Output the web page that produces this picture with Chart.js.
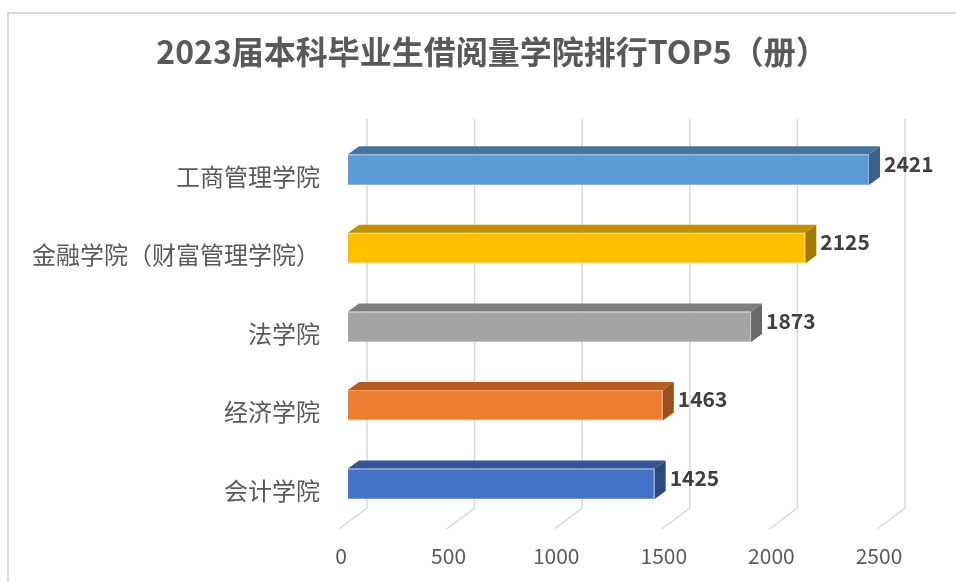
<!DOCTYPE html>
<html>
<head>
<meta charset="utf-8">
<script src="https://cdn.jsdelivr.net/npm/chart.js@4/dist/chart.umd.min.js"></script>
<style>
  html, body { margin: 0; padding: 0; background: #fff; }
  canvas { display: block; }
</style>
</head>
<body>
<canvas id="chart" width="956" height="582"></canvas>
<script>
// ======= Данные =======
const colleges = ["工商管理学院", "金融学院（财富管理学院）", "法学院", "经济学院", "会计学院"];
const books = [2421, 2125, 1873, 1463, 1425];
const axisTicks = [0, 500, 1000, 1500, 2000, 2500];

// цвета граней: передняя / верхняя / боковая
const frontColors = ["#5B9BD5", "#FFC000", "#A5A5A5", "#ED7D31", "#4472C4"];
const edgeColors  = ["#86B5E2", "#FFD34D", "#C2C2C2", "#F29E66", "#7296D6"];
const topColors   = ["#44749F", "#C29100", "#7E7E7E", "#B65D22", "#335592"];
const sideColors  = ["#3A6288", "#A37A00", "#6A6A6A", "#9C4F1C", "#2B4A7E"];

const FONT = "'Noto Sans CJK SC', 'Noto Sans', sans-serif";
const DX = 11, DY = 8;   // глубина столбика

const bar3d = {
  id: "bar3d",
  beforeDraw(chart) {
    // рамка
    const ctx = chart.ctx;
    ctx.save();
    ctx.strokeStyle = "#d9d9d9";
    ctx.lineWidth = 2;
    ctx.beginPath();
    ctx.moveTo(8, chart.height + 2);
    ctx.lineTo(8, 13);
    ctx.lineTo(chart.width + 2, 13);
    ctx.stroke();
    ctx.restore();
  },
  beforeDatasetsDraw(chart) {
    // задняя стенка + пол
    const ctx = chart.ctx, xs = chart.scales.x, area = chart.chartArea;
    ctx.save();
    ctx.strokeStyle = "#d9d9d9";
    ctx.lineWidth = 1.5;
    xs.ticks.forEach(t => {
      const x = xs.getPixelForValue(t.value);
      ctx.beginPath();
      ctx.moveTo(x + 19, area.top - 12);
      ctx.lineTo(x + 19, area.bottom - 15);
      ctx.lineTo(x - 9, area.bottom + 6);
      ctx.stroke();
    });
    ctx.restore();
  },
  afterDatasetsDraw(chart) {
    const ctx = chart.ctx;
    const meta = chart.getDatasetMeta(0);
    ctx.save();
    meta.data.forEach((bar, i) => {
      const p = bar.getProps(["x", "y", "base", "height"], true);
      const x0 = p.base, x1 = p.x, yt = p.y - p.height / 2, yb = p.y + p.height / 2;
      // верх
      ctx.fillStyle = topColors[i];
      ctx.beginPath();
      ctx.moveTo(x0, yt);
      ctx.lineTo(x0 + DX, yt - DY);
      ctx.lineTo(x1 + DX, yt - DY);
      ctx.lineTo(x1, yt);
      ctx.closePath();
      ctx.fill();
      // бок
      ctx.fillStyle = sideColors[i];
      ctx.beginPath();
      ctx.moveTo(x1, yt);
      ctx.lineTo(x1 + DX, yt - DY);
      ctx.lineTo(x1 + DX, yb - DY);
      ctx.lineTo(x1, yb);
      ctx.closePath();
      ctx.fill();
      // подпись
      ctx.fillStyle = "#404040";
      ctx.font = "bold 21px " + FONT;
      ctx.textAlign = "left";
      ctx.textBaseline = "middle";
      ctx.fillText(String(books[i]), x1 + DX + 4, p.y - 6);
    });
    ctx.restore();
  }
};

new Chart(document.getElementById("chart"), {
  type: "bar",
  data: {
    labels: colleges,
    datasets: [{
      data: books,
      backgroundColor: frontColors,
      borderColor: edgeColors,
      borderWidth: 1,
      barPercentage: 0.39,
      categoryPercentage: 1
    }]
  },
  options: {
    indexAxis: "y",
    responsive: false,
    animation: false,
    devicePixelRatio: 1,
    layout: { padding: { left: 28, right: 0, top: 0, bottom: 15 } },
    plugins: {
      legend: { display: false },
      tooltip: { enabled: false },
      title: {
        display: true,
        text: "2023届本科毕业生借阅量学院排行TOP5（册）",
        color: "#595959",
        font: { family: FONT, size: 32, weight: "bold", lineHeight: 1.2 },
        padding: { top: 33, bottom: 59 }
      }
    },
    scales: {
      x: {
        min: 0,
        max: 2500,
        afterBuildTicks: s => { s.ticks = axisTicks.map(v => ({ value: v })); },
        afterFit: s => { s.height = 44; },
        grid: { display: false, drawTicks: false },
        border: { display: false },
        ticks: {
          color: "#595959",
          font: { family: FONT, size: 21, lineHeight: 1.2 },
          padding: 20,
          labelOffset: -7,
          maxRotation: 0,
          callback: v => String(v)
        }
      },
      y: {
        afterFit: s => { s.width = 320; },
        grid: { display: false, drawTicks: false },
        border: { display: false },
        ticks: {
          color: "#595959",
          font: { family: FONT, size: 24 },
          padding: 28,
          labelOffset: 7
        }
      },
      // пустая ось справа — место под подписи
      yRight: {
        position: "right",
        afterFit: s => { s.width = 70; },
        grid: { display: false, drawTicks: false },
        border: { display: false },
        ticks: { display: false }
      }
    }
  },
  plugins: [bar3d]
});
</script>
</body>
</html>
